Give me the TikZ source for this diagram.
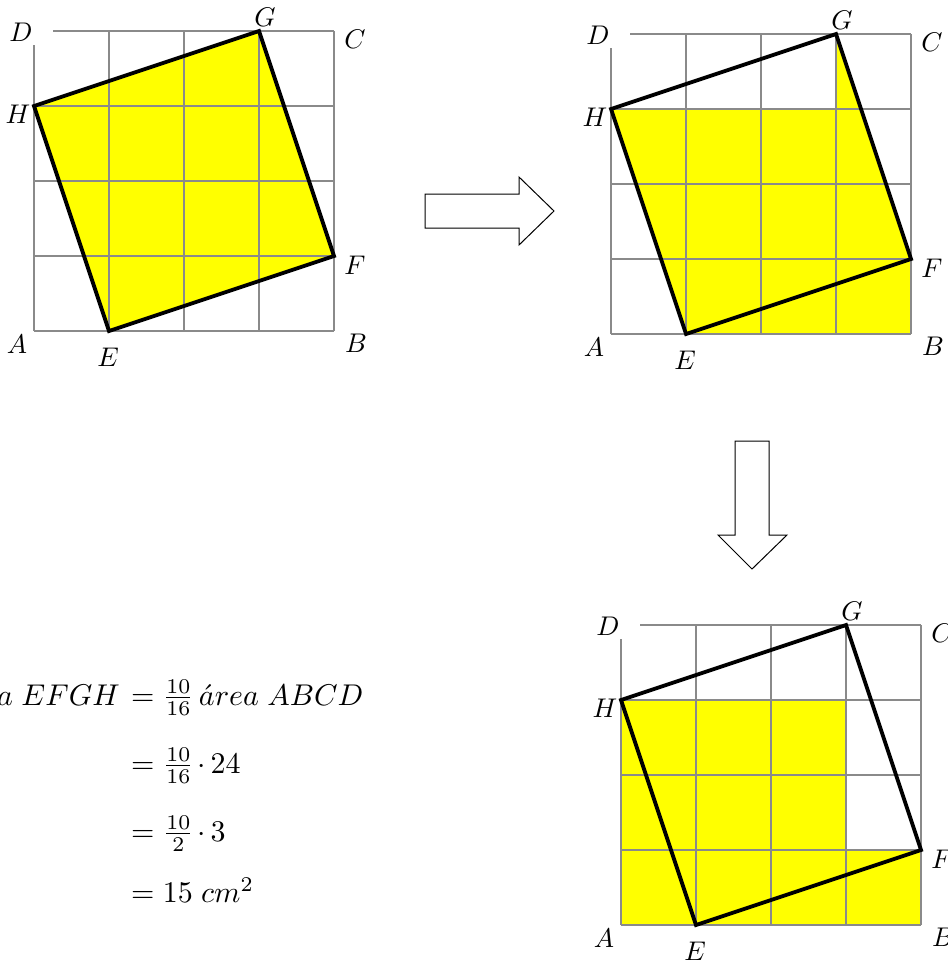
\documentclass[tikz,border=0pt]{standalone}
\definecolor{gridgray}{RGB}{138,138,138}
\definecolor{fillyellow}{RGB}{255,255,0}
\newcommand\mygridlines{%
  \foreach \k in {75,150,225,300} {%
    \draw[gridline] (0,\k) -- (300,\k);
    \draw[gridline] (\k,0) -- (\k,300);
  }%
  \draw[gridline] (19,0) -- (300,0);
  \draw[gridline] (0,14) -- (0,300);
}
\newcommand\mycorners{%
  \coordinate (A) at (0,300);
  \coordinate (B) at (300,300);
  \coordinate (C) at (300,0);
  \coordinate (D) at (0,0);
  \coordinate (E) at (75,300);
  \coordinate (F) at (300,225);
  \coordinate (G) at (225,0);
  \coordinate (H) at (0,75);
}
\newcommand\mylab[1]{\scalebox{2.7}{$#1$}}
\newcommand\myeq[1]{\scalebox{3}{$#1$}}
\newcommand\mysquare{%
  \draw[sq] (E) -- (F) -- (G) -- (H) -- cycle;
  \node[lab] (lD) at (-13,1) {\mylab{D}};
  \node[lab] (lC) at (321,8) {\mylab{C}};
  \node[lab] (lH) at (-16,83) {\mylab{H}};
  \node[lab] (lF) at (321,234) {\mylab{F}};
  \node[lab] (lA) at (-17,313) {\mylab{A}};
  \node[lab] (lE) at (74,326) {\mylab{E}};
  \node[lab] (lB) at (322,312) {\mylab{B}};
  \node[lab] (lG) at (231,-14) {\mylab{G}};
}
\begin{document}
\begin{tikzpicture}[x=1pt,y=-1pt,
  gridline/.style={draw=gridgray,line width=1.5pt},
  sq/.style={draw=black,line width=3.8pt,line join=miter},
  lab/.style={inner sep=0pt},
  blockarrow/.style={draw=black,line width=1pt,fill=white,line join=miter},
  eq/.style={inner sep=0pt}]
\useasboundingbox (0,0) rectangle (948,962);

% Panel 1
\begin{scope}[shift={(34,31)},name prefix=p1-]
  \mycorners
  \fill[fillyellow] (E) -- (F) -- (G) -- (H) -- cycle;
  \mygridlines
  \mysquare
\end{scope}

% Panel 2
\begin{scope}[shift={(611,34)},name prefix=p2-]
  \mycorners
  \fill[fillyellow] (H) -- (225,75) -- (G) -- (F) -- (B) -- (E) -- cycle;
  \mygridlines
  \mysquare
\end{scope}

% Panel 3
\begin{scope}[shift={(621,625)},name prefix=p3-]
  \mycorners
  \fill[fillyellow] (H) -- (225,75) -- (225,225) -- (F) -- (B) -- (A) -- cycle;
  \mygridlines
  \mysquare
\end{scope}

% Block arrows
\draw[blockarrow] (425,194) -- (519,194) -- (519,177) -- (554,211) -- (519,245) -- (519,228) -- (425,228) -- cycle;
\draw[blockarrow] (735,441) -- (769,441) -- (769,535) -- (787,535) -- (752,569) -- (718,535) -- (735,535) -- cycle;

% Equation
\node[eq,anchor=base east] (eq1l) at (120,705) {\myeq{\acute{a}rea\;EFGH}};
\node[eq,anchor=base west] (eq1r) at (131,705) {\myeq{=\frac{10}{16}\,\acute{a}rea\;ABCD}};
\node[eq,anchor=base west] (eq2) at (131,773) {\myeq{=\frac{10}{16}\mkern2mu{\cdot}\mkern3mu24}};
\node[eq,anchor=base west] (eq3) at (131,841) {\myeq{=\frac{10}{2}\mkern2mu{\cdot}\mkern3mu3}};
\node[eq,anchor=base west] (eq4) at (131,902) {\myeq{=15\;cm^2}};
\end{tikzpicture}
\end{document}
